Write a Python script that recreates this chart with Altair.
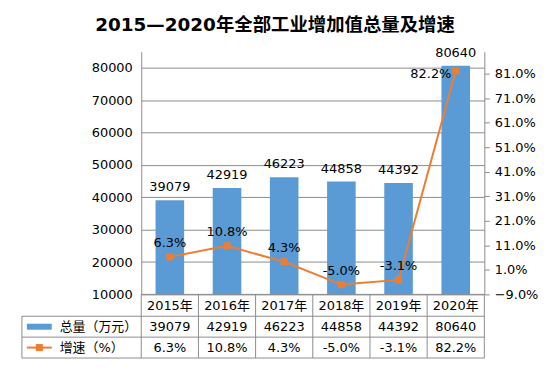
import altair as alt
import pandas as pd

# ---- data ----
years = ["2015年", "2016年", "2017年", "2018年", "2019年", "2020年"]
totals = [39079, 42919, 46223, 44858, 44392, 80640]
growth = [6.3, 10.8, 4.3, -5.0, -3.1, 82.2]
series_names = ["总量（万元）", "增速（%）"]
left_ticks = [10000, 20000, 30000, 40000, 50000, 60000, 70000, 80000]
right_ticks = [-9, 1, 11, 21, 31, 41, 51, 61, 71, 81]
title_text = "2015—2020年全部工业增加值总量及增速"

df = pd.DataFrame({"year": years, "total": totals, "growth": growth})
df["total_label"] = df["total"].astype(str)
df["growth_label"] = df["growth"].map(lambda v: f"{v:.1f}%")

# ---- styling / layout ----
W, H = 345, 244
BLUE = "#5B9BD5"
ORANGE = "#ED7D31"
GRID = "#8C8C8C"
FONT = "DejaVu Sans, Noto Sans CJK SC"
FS = 13
ROW1_BOTTOM, ROW2_BOTTOM, ROW3_BOTTOM = 266, 287, 308
LEGEND_LEFT = -120

base = alt.Chart(df)
xscale = alt.Scale(paddingInner=0, paddingOuter=0)
X = alt.X("year:N", sort=years, axis=None, scale=xscale)

# ---- left: bars ----
yl = alt.Y(
    "total:Q",
    title=None,
    scale=alt.Scale(domain=[10000, 85000], zero=False, nice=False),
    axis=alt.Axis(
        orient="left", values=left_ticks, tickCount=30, format="d", labelOverlap=False,
        grid=True, gridColor=GRID, gridWidth=1,
        domainColor=GRID, ticks=False, labelPadding=9, labelFontSize=FS,
        labelFont=FONT, labelColor="black",
    ),
)
bars = base.mark_bar(color=BLUE, width=alt.RelativeBandSize(0.5)).encode(
    x=X, y=yl, y2=alt.datum(10000)
)
bar_labels = base.mark_text(dy=-13, fontSize=FS, font=FONT, color="black").encode(
    x=X, y=alt.Y("total:Q"), text="total_label:N"
)
left = alt.layer(bars, bar_labels)

# ---- right: growth line ----
yr = alt.Y(
    "growth:Q",
    title=None,
    scale=alt.Scale(domain=[-9, 90], zero=False, nice=False),
    axis=alt.Axis(
        orient="right", values=right_ticks, tickCount=30, labelOverlap=False, grid=False,
        domainColor=GRID, ticks=True, tickSize=5, tickColor=GRID, labelPadding=5,
        labelFontSize=FS, labelFont=FONT, labelColor="black",
        labelExpr="format(datum.value, '.1f') + '%'",
    ),
)
line = base.mark_line(color=ORANGE, strokeWidth=2).encode(x=X, y=yr)
points = base.mark_square(color=ORANGE, size=50, opacity=1).encode(x=X, y=alt.Y("growth:Q"))
line_labels = base.transform_filter(alt.datum.year != "2020年").mark_text(
    dy=-14, fontSize=FS, font=FONT, color="black"
).encode(x=X, y=alt.Y("growth:Q"), text="growth_label:N")
last_label = base.transform_filter(alt.datum.year == "2020年").mark_text(
    dx=-25, dy=3, fontSize=FS, font=FONT, color="black"
).encode(x=X, y=alt.Y("growth:Q"), text="growth_label:N")
right = alt.layer(line, points, line_labels, last_label)

# ---- data table below the plot ----
one = alt.Chart(pd.DataFrame({"k": [0]}))
XB = alt.X("year:N", sort=years, axis=None, scale=xscale, bandPosition=0)

hrule_top = one.mark_rule(color=GRID).encode(x=alt.value(0), x2=alt.value(W), y=alt.value(H))
hrules = [
    one.mark_rule(color=GRID).encode(x=alt.value(LEGEND_LEFT), x2=alt.value(W), y=alt.value(yv))
    for yv in (ROW1_BOTTOM, ROW2_BOTTOM, ROW3_BOTTOM)
]
vrules = base.mark_rule(color=GRID).encode(x=XB, y=alt.value(H), y2=alt.value(ROW3_BOTTOM))
vright = one.mark_rule(color=GRID).encode(x=alt.value(W), y=alt.value(H), y2=alt.value(ROW3_BOTTOM))
vleft = one.mark_rule(color=GRID).encode(
    x=alt.value(LEGEND_LEFT), y=alt.value(ROW1_BOTTOM), y2=alt.value(ROW3_BOTTOM)
)

row1 = base.mark_text(fontSize=FS, font=FONT, color="black").encode(
    x=X, y=alt.value((H + ROW1_BOTTOM) / 2 + 0.5), text="year:N"
)
row2 = base.mark_text(fontSize=FS, font=FONT, color="black").encode(
    x=X, y=alt.value((ROW1_BOTTOM + ROW2_BOTTOM) / 2 + 0.5), text="total_label:N"
)
row3 = base.mark_text(fontSize=FS, font=FONT, color="black").encode(
    x=X, y=alt.value((ROW2_BOTTOM + ROW3_BOTTOM) / 2 + 0.5), text="growth_label:N"
)

# legend keys inside the table
r2c = (ROW1_BOTTOM + ROW2_BOTTOM) / 2
r3c = (ROW2_BOTTOM + ROW3_BOTTOM) / 2
key_bar = one.mark_rect(color=BLUE).encode(
    x=alt.value(-115), x2=alt.value(-90), y=alt.value(r2c - 3), y2=alt.value(r2c + 3)
)
key_line = one.mark_rule(color=ORANGE, strokeWidth=2).encode(
    x=alt.value(-115), x2=alt.value(-90), y=alt.value(r3c)
)
key_pt = one.mark_square(color=ORANGE, size=50, opacity=1).encode(
    x=alt.value(-102.5), y=alt.value(r3c)
)
key_t1 = one.mark_text(align="left", fontSize=FS, font=FONT, color="black").encode(
    x=alt.value(-82), y=alt.value(r2c + 0.5), text=alt.value(series_names[0])
)
key_t2 = one.mark_text(align="left", fontSize=FS, font=FONT, color="black").encode(
    x=alt.value(-82), y=alt.value(r3c + 0.5), text=alt.value(series_names[1])
)

table = alt.layer(
    hrule_top, *hrules, vrules, vright, vleft, row1, row2, row3,
    key_bar, key_line, key_pt, key_t1, key_t2,
)

chart = (
    alt.layer(left, right, table)
    .resolve_scale(y="independent")
    .properties(
        width=W,
        height=H,
        title=alt.TitleParams(
            title_text, fontSize=18.5, font=FONT, fontWeight="bold", color="black",
            anchor="middle", dx=-38, offset=13,
        ),
        autosize=alt.AutoSizeParams(type="none"),
        padding={"left": 134, "top": 43, "right": 56, "bottom": 66},
    )
    .configure_view(strokeWidth=0)
)

chart.save("out.html", embed_options={"renderer": "svg", "actions": False})
